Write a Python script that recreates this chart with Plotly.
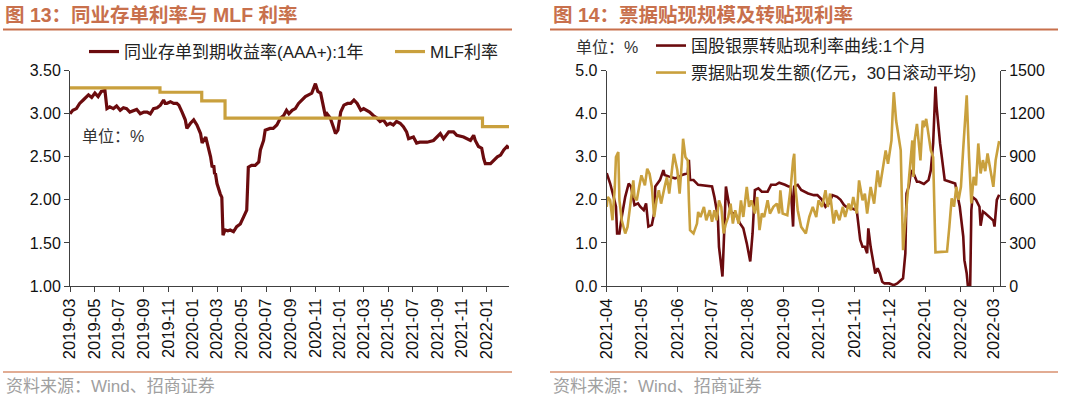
import plotly.graph_objects as go

# ---------------- Data: Figure 13 ----------------
cd_dates = ["2019-03-01","2019-03-08","2019-03-17","2019-03-25","2019-04-03","2019-04-10","2019-04-16","2019-04-24",
"2019-05-02","2019-05-10","2019-05-18","2019-05-27","2019-06-01","2019-06-08","2019-06-17","2019-06-25","2019-07-04",
"2019-07-12","2019-07-20","2019-07-28","2019-08-06","2019-08-14","2019-08-23","2019-09-01","2019-09-09","2019-09-17",
"2019-09-25","2019-10-04","2019-10-12","2019-10-20","2019-10-24","2019-10-28","2019-11-06","2019-11-14","2019-11-22",
"2019-11-27","2019-12-05","2019-12-13","2019-12-17","2019-12-21","2019-12-26","2020-01-03","2020-01-08","2020-01-11",
"2020-01-20","2020-01-24","2020-02-02","2020-02-06","2020-02-10","2020-02-14","2020-02-18","2020-02-22","2020-02-24",
"2020-02-26","2020-03-01","2020-03-05","2020-03-09","2020-03-13","2020-03-16","2020-03-21","2020-03-28","2020-04-03",
"2020-04-11","2020-04-19","2020-04-28","2020-05-06","2020-05-14","2020-05-18","2020-05-26","2020-06-04","2020-06-13",
"2020-06-17","2020-06-25","2020-06-29","2020-07-11","2020-07-19","2020-07-28","2020-08-06","2020-08-14","2020-08-21",
"2020-08-27","2020-09-04","2020-09-12","2020-09-20","2020-09-29","2020-10-07","2020-10-15","2020-10-23","2020-11-01",
"2020-11-07","2020-11-14","2020-11-18","2020-11-26","2020-11-30","2020-12-08","2020-12-17","2020-12-21","2020-12-27",
"2021-01-03","2021-01-11","2021-01-20","2021-01-28","2021-02-05","2021-02-13","2021-02-22","2021-03-01","2021-03-08",
"2021-03-16","2021-03-25","2021-04-03","2021-04-11","2021-04-19","2021-04-28","2021-05-06","2021-05-14","2021-05-22",
"2021-05-31","2021-06-08","2021-06-16","2021-06-21","2021-07-03","2021-07-11","2021-07-19","2021-08-06","2021-08-22",
"2021-08-31","2021-09-08","2021-09-16","2021-09-29","2021-10-11","2021-10-19","2021-11-05","2021-11-22","2021-11-30",
"2021-12-04","2021-12-12","2021-12-20","2021-12-25","2021-12-29","2022-01-11","2022-01-19","2022-01-28","2022-02-05",
"2022-02-13","2022-02-21","2022-02-26"]
cd_rate = [3.00,3.04,3.06,3.12,3.16,3.20,3.22,3.19,
3.24,3.20,3.26,3.27,3.06,3.08,3.06,3.09,3.04,
3.07,3.06,3.02,3.04,3.05,3.00,3.02,3.02,3.00,
3.06,3.07,3.10,3.16,3.12,3.12,3.14,3.12,3.12,
3.10,3.02,2.93,2.83,2.86,2.89,2.93,2.90,2.87,
2.77,2.66,2.73,2.66,2.58,2.50,2.38,2.40,2.30,
2.31,2.19,2.11,2.07,2.03,1.59,1.65,1.64,1.65,
1.63,1.69,1.72,1.80,1.88,2.38,2.40,2.40,2.44,
2.58,2.69,2.81,2.83,2.83,2.87,2.95,2.98,3.04,
3.00,3.04,3.06,3.12,3.16,3.20,3.22,3.24,3.35,
3.26,3.24,3.16,2.97,3.00,2.95,2.83,2.77,2.81,
3.02,3.10,3.12,3.12,3.16,3.12,3.04,3.06,3.04,
3.02,2.98,2.95,2.91,2.93,2.87,2.89,2.87,2.91,
2.89,2.85,2.79,2.71,2.73,2.66,2.67,2.67,2.69,
2.73,2.77,2.71,2.79,2.79,2.75,2.73,2.69,2.75,
2.69,2.62,2.60,2.48,2.42,2.42,2.46,2.50,2.52,
2.58,2.62,2.60]
mlf_dates = ["2019-03-01","2019-10-11","2020-01-23","2020-03-21","2021-12-22","2022-02-26"]
mlf_rate = [3.30,3.25,3.15,2.95,2.85,2.85]

# ---------------- Data: Figure 14 ----------------
rd_dates = ["2021-04-01","2021-04-04","2021-04-07","2021-04-09","2021-04-10","2021-04-12","2021-04-14","2021-04-17",
"2021-04-20","2021-04-22","2021-04-25","2021-04-28","2021-04-30","2021-05-03","2021-05-05","2021-05-07","2021-05-10",
"2021-05-12","2021-05-13","2021-05-17","2021-05-20","2021-05-21","2021-05-25","2021-05-30","2021-06-03","2021-06-05",
"2021-06-10","2021-06-11","2021-06-12","2021-06-15","2021-06-19","2021-06-26","2021-07-01","2021-07-03","2021-07-06",
"2021-07-07","2021-07-10","2021-07-11","2021-07-13","2021-07-14","2021-07-16","2021-07-18","2021-07-21","2021-07-25",
"2021-07-28","2021-07-31","2021-08-03","2021-08-05","2021-08-07","2021-08-10","2021-08-13","2021-08-18","2021-08-21",
"2021-08-25","2021-08-28","2021-09-02","2021-09-05","2021-09-07","2021-09-09","2021-09-10","2021-09-13","2021-09-16",
"2021-09-22","2021-09-27","2021-09-30","2021-10-04","2021-10-07","2021-10-10","2021-10-13","2021-10-17","2021-10-20",
"2021-10-23","2021-10-25","2021-10-30","2021-11-03","2021-11-04","2021-11-06","2021-11-08","2021-11-10","2021-11-12",
"2021-11-13","2021-11-15","2021-11-17","2021-11-19","2021-11-21","2021-11-23","2021-11-25","2021-11-27","2021-12-01",
"2021-12-05","2021-12-08","2021-12-11","2021-12-13","2021-12-15","2021-12-16","2021-12-18","2021-12-20","2021-12-22",
"2021-12-25","2021-12-27","2021-12-31","2022-01-04","2022-01-06","2022-01-08","2022-01-10","2022-01-11","2022-01-14",
"2022-01-18","2022-01-23","2022-01-27","2022-01-31","2022-02-03","2022-02-04","2022-02-06","2022-02-07","2022-02-09",
"2022-02-10","2022-02-11","2022-02-14","2022-02-17","2022-02-18","2022-02-20","2022-02-22","2022-02-25","2022-02-27",
"2022-03-01","2022-03-02","2022-03-04","2022-03-06"]
rd_rate = [2.62,2.38,2.07,1.84,1.22,1.22,1.61,2.07,
2.38,2.31,1.88,1.92,1.84,1.76,1.92,1.38,1.42,
1.69,2.31,2.46,2.69,2.58,2.54,2.50,2.54,2.58,
2.62,2.93,2.46,2.46,2.35,2.32,2.31,2.07,1.61,
0.91,0.22,0.91,2.31,2.15,1.84,1.69,1.69,1.46,
1.34,0.99,0.57,1.22,2.23,2.27,2.19,2.19,2.35,
2.35,2.40,2.35,2.31,2.31,1.38,2.31,2.35,2.23,
2.15,2.11,2.11,2.00,1.84,1.92,2.11,2.07,2.00,
1.88,1.84,1.80,1.76,1.53,1.07,0.91,0.91,0.76,
1.34,0.91,0.60,0.29,0.41,0.29,0.10,0.06,0.06,
0.02,0.06,0.14,0.18,0.76,2.15,2.31,2.69,2.62,
2.42,2.42,2.37,2.46,2.69,3.31,4.63,4.16,3.31,
2.46,2.42,2.38,1.84,1.15,0.60,0.29,0.00,0.00,
1.76,2.07,2.00,1.84,1.40,1.73,1.69,1.61,1.55,
1.52,1.38,2.00,2.12]

disc_dates = ["2021-04-01","2021-04-02","2021-04-04","2021-04-06","2021-04-08","2021-04-09","2021-04-11","2021-04-12",
"2021-04-14","2021-04-17","2021-04-19","2021-04-22","2021-04-24","2021-04-25","2021-04-27","2021-04-29","2021-05-01",
"2021-05-04","2021-05-06","2021-05-08","2021-05-10","2021-05-12","2021-05-14","2021-05-16","2021-05-18","2021-05-21",
"2021-05-23","2021-05-25","2021-05-27","2021-05-29","2021-06-01","2021-06-03","2021-06-05","2021-06-06","2021-06-08",
"2021-06-10","2021-06-11","2021-06-12","2021-06-15","2021-06-18","2021-06-19","2021-06-21","2021-06-24","2021-06-26",
"2021-06-29","2021-07-01","2021-07-03","2021-07-05","2021-07-07","2021-07-09","2021-07-11","2021-07-13","2021-07-15",
"2021-07-17","2021-07-19","2021-07-21","2021-07-24","2021-07-26","2021-07-28","2021-07-31","2021-08-02","2021-08-04",
"2021-08-07","2021-08-09","2021-08-11","2021-08-13","2021-08-15","2021-08-18","2021-08-20","2021-08-23","2021-08-26",
"2021-08-28","2021-08-29","2021-08-31","2021-09-04","2021-09-07","2021-09-09","2021-09-10","2021-09-11","2021-09-13",
"2021-09-16","2021-09-20","2021-09-23","2021-09-26","2021-09-29","2021-10-01","2021-10-04","2021-10-07","2021-10-09",
"2021-10-11","2021-10-14","2021-10-16","2021-10-19","2021-10-22","2021-10-24","2021-10-27","2021-10-29","2021-10-31",
"2021-11-03","2021-11-05","2021-11-08","2021-11-10","2021-11-12","2021-11-15","2021-11-18","2021-11-21","2021-11-23",
"2021-11-26","2021-11-28","2021-11-30","2021-12-03","2021-12-04","2021-12-05","2021-12-07","2021-12-09","2021-12-11",
"2021-12-12","2021-12-13","2021-12-15","2021-12-17","2021-12-19","2021-12-21","2021-12-22","2021-12-23","2021-12-25",
"2021-12-27","2021-12-28","2021-12-30","2021-12-31","2022-01-02","2022-01-04","2022-01-06","2022-01-08","2022-01-10",
"2022-01-15","2022-01-20","2022-01-22","2022-01-24","2022-01-26","2022-01-28","2022-01-30","2022-02-01","2022-02-03",
"2022-02-06","2022-02-08","2022-02-10","2022-02-12","2022-02-14","2022-02-16","2022-02-18","2022-02-20","2022-02-22",
"2022-02-24","2022-02-26","2022-03-01","2022-03-03","2022-03-06"]
disc_amt = [551,620,597,458,690,898,933,597,
458,366,412,597,736,620,597,690,771,
701,817,782,690,481,597,667,574,690,
759,644,782,921,806,644,875,1026,898,
875,597,389,366,435,516,481,551,458,
528,447,528,458,597,551,366,435,481,
574,435,528,435,597,481,690,551,597,
505,620,389,505,481,597,505,551,574,
505,667,505,493,690,875,921,690,528,
412,366,481,551,481,597,551,667,551,
644,435,528,458,551,481,574,528,620,
505,736,597,644,505,690,574,806,690,
852,945,852,1014,1199,1350,1153,1060,945,
597,250,458,644,875,1014,759,1014,1130,
968,875,1153,1107,1164,1060,945,898,235,
238,240,413,610,552,691,600,691,960,
1329,900,575,761,700,993,784,877,800,
923,830,691,877,1010]

# ---------------- Styling ----------------
RED = "#6B0B0E"
GOLD = "#C9A03D"
ORANGE = "#C8704C"
AX = "#404040"
FONT = "Liberation Sans, Noto Sans CJK SC, sans-serif"

fig = go.Figure()

fig.add_trace(go.Scatter(x=cd_dates, y=cd_rate, mode="lines", name="同业存单到期收益率(AAA+):1年",
                         line=dict(color=RED, width=3.2), xaxis="x", yaxis="y", legend="legend"))
fig.add_trace(go.Scatter(x=mlf_dates, y=mlf_rate, mode="lines", name="MLF利率", line_shape="hv",
                         line=dict(color=GOLD, width=3.2), xaxis="x", yaxis="y", legend="legend2"))
fig.add_trace(go.Scatter(x=rd_dates, y=rd_rate, mode="lines", name="国股银票转贴现利率曲线:1个月",
                         line=dict(color=RED, width=2.6), xaxis="x2", yaxis="y2", legend="legend3"))
fig.add_trace(go.Scatter(x=disc_dates, y=disc_amt, mode="lines", name="票据贴现发生额(亿元，30日滚动平均)",
                         line=dict(color=GOLD, width=2.6), xaxis="x2", yaxis="y3", legend="legend4"))

W, H = 1080, 399
def px(x): return x / W
def py(y): return 1 - y / H

ydom = [py(286), py(70.7)]
TICKFONT = dict(family=FONT, size=16, color="#111")
XTICKFONT = dict(family=FONT, size=16.5, color="#111")
axis_common = dict(showline=True, linecolor=AX, linewidth=1, ticks="outside", ticklen=5,
                   tickcolor=AX, showgrid=False, zeroline=False, automargin=False)

leg_common = dict(bgcolor="rgba(0,0,0,0)", borderwidth=0, orientation="v",
                  font=dict(family=FONT, size=17, color="#222"), yanchor="middle", xanchor="left",
                  xref="container", yref="container")

fig.update_layout(
    template="none",
    width=W, height=H, margin=dict(l=0, r=0, t=0, b=0, pad=0, autoexpand=False),
    paper_bgcolor="white", plot_bgcolor="white",
    font=dict(family=FONT, color="#222"),
    xaxis=dict(domain=[px(70), px(509)], anchor="y", type="date",
               range=["2019-03-01", "2022-02-26"], tick0="2019-03-01", dtick="M2",
               tickformat="%Y-%m", tickangle=-90, tickfont=XTICKFONT, **axis_common),
    yaxis=dict(domain=ydom, anchor="x", range=[1.0, 3.5], dtick=0.5, tickformat=".2f",
               tickfont=TICKFONT, **axis_common),
    xaxis2=dict(domain=[px(606.7), px(1000)], anchor="y2", type="date",
                range=["2021-04-01", "2022-03-06 18:00"], tick0="2021-04-01", dtick="M1",
                tickformat="%Y-%m", tickangle=-90, tickfont=XTICKFONT, **axis_common),
    yaxis2=dict(domain=ydom, anchor="x2", range=[0, 5], dtick=1, tickformat=".1f",
                tickfont=TICKFONT, **axis_common),
    yaxis3=dict(domain=ydom, anchor="x2", overlaying="y2", side="right", range=[0, 1500], dtick=300,
                tickfont=TICKFONT, **axis_common),
    legend=dict(x=px(84), y=py(52), **leg_common),
    legend2=dict(x=px(390), y=py(52), **leg_common),
    legend3=dict(x=px(651), y=py(46), **leg_common),
    legend4=dict(x=px(651), y=py(73), **leg_common),
    showlegend=True,
)

# Titles, rules, notes
annotations = [
    dict(text="<b>图 13：同业存单利率与 MLF 利率</b>", x=px(3), y=py(15), xanchor="left", yanchor="middle",
         font=dict(family=FONT, size=19.5, color=ORANGE)),
    dict(text="<b>图 14：票据贴现规模及转贴现利率</b>", x=px(551), y=py(15), xanchor="left", yanchor="middle",
         font=dict(family=FONT, size=19.5, color=ORANGE)),
    dict(text="单位：%", x=px(80), y=py(137), xanchor="left", yanchor="middle",
         font=dict(family=FONT, size=16, color="#333")),
    dict(text="单位：%", x=px(574), y=py(47), xanchor="left", yanchor="middle",
         font=dict(family=FONT, size=16, color="#333")),
    dict(text="资料来源：Wind、招商证券", x=px(4), y=py(386), xanchor="left", yanchor="middle",
         font=dict(family=FONT, size=17, color="#A0A0A0")),
    dict(text="资料来源：Wind、招商证券", x=px(551), y=py(386), xanchor="left", yanchor="middle",
         font=dict(family=FONT, size=17, color="#A0A0A0")),
]
for a in annotations:
    a.update(xref="paper", yref="paper", showarrow=False)
fig.update_layout(annotations=annotations)

shapes = []
for x0, x1 in [(3, 512), (550, 1058)]:
    shapes.append(dict(type="line", xref="paper", yref="paper", x0=px(x0), x1=px(x1), y0=py(29.5), y1=py(29.5),
                       line=dict(color=ORANGE, width=2)))
    shapes.append(dict(type="line", xref="paper", yref="paper", x0=px(x0), x1=px(x1), y0=py(372), y1=py(372),
                       line=dict(color="#D9906F", width=1.5)))
fig.update_layout(shapes=shapes)

fig.write_html("out.html", config={"displayModeBar": False},
               post_script="document.body.style.margin='0';document.body.style.overflow='hidden';")
